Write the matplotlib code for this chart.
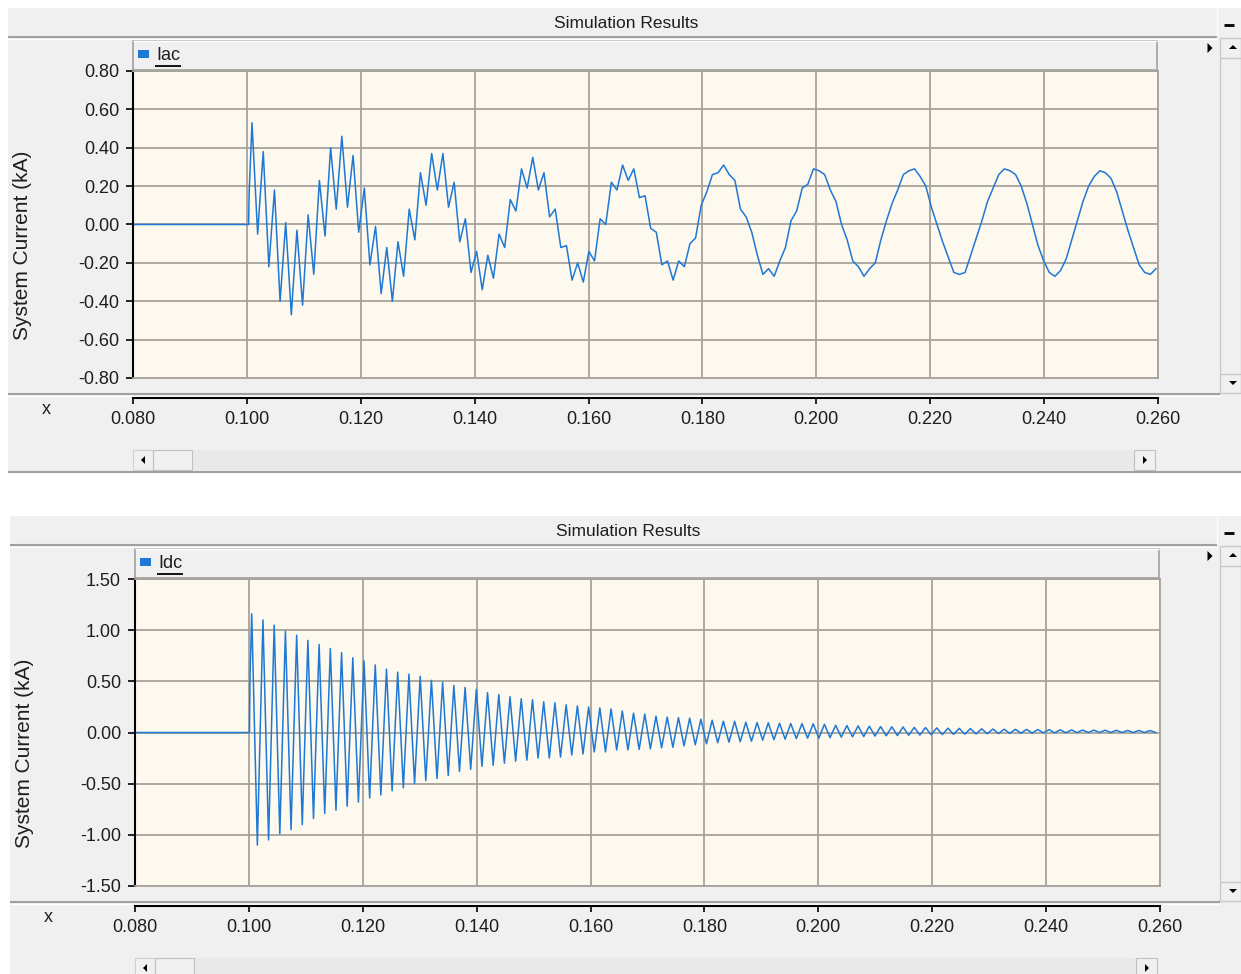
import numpy as np
import matplotlib.pyplot as plt
from matplotlib.patches import Rectangle, Polygon

plt.rcParams['font.family'] = ['Liberation Sans', 'DejaVu Sans']

# ---- data ----
x_ticks = [0.080, 0.100, 0.120, 0.140, 0.160, 0.180, 0.200, 0.220, 0.240, 0.260]
x_tick_labels = ['0.080', '0.100', '0.120', '0.140', '0.160', '0.180',
                 '0.200', '0.220', '0.240', '0.260']

iac_ticks = [-0.8, -0.6, -0.4, -0.2, 0.0, 0.2, 0.4, 0.6, 0.8]
iac_tick_labels = ['-0.80', '-0.60', '-0.40', '-0.20', '0.00', '0.20', '0.40', '0.60', '0.80']
idc_ticks = [-1.5, -1.0, -0.5, 0.0, 0.5, 1.0, 1.5]
idc_tick_labels = ['-1.50', '-1.00', '-0.50', '0.00', '0.50', '1.00', '1.50']

# Iac: flat until the event, then successive ripple extremes (~1 ms apart)
iac_lead_t = [0.080, 0.1003, 0.1004]
iac_lead_v = [0.0, 0.0, 0.17]
iac_t0 = 0.1009
iac_dt = 0.000986
iac_vals = [
    0.53, -0.05, 0.38, -0.22, 0.18, -0.40, 0.01, -0.47, -0.03, -0.42,
    0.05, -0.26, 0.23, -0.06, 0.40, 0.08, 0.46, 0.09, 0.36, -0.04,
    0.19, -0.21, -0.01, -0.36, -0.12, -0.40, -0.09, -0.27, 0.08, -0.08,
    0.27, 0.10, 0.37, 0.18, 0.37, 0.09, 0.22, -0.09, 0.03, -0.25,
    -0.14, -0.34, -0.16, -0.28, -0.05, -0.12, 0.13, 0.07, 0.29, 0.19,
    0.35, 0.18, 0.27, 0.04, 0.08, -0.12, -0.11, -0.29, -0.20, -0.30,
    -0.14, -0.19, 0.03, 0.00, 0.22, 0.18, 0.31, 0.23, 0.29, 0.14,
    0.15, -0.02, -0.04, -0.21, -0.19, -0.29, -0.19, -0.22, -0.10, -0.07,
    0.10, 0.17, 0.26, 0.27, 0.31, 0.26, 0.23, 0.08, 0.04, -0.04,
    -0.16, -0.26, -0.23, -0.27, -0.19, -0.12, 0.02, 0.07, 0.19, 0.21,
    0.29, 0.28, 0.26, 0.18, 0.12, 0.00, -0.08, -0.19, -0.22, -0.27,
    -0.23, -0.20, -0.08, 0.02, 0.11, 0.18, 0.26, 0.28, 0.29, 0.25,
    0.20, 0.09, 0.00, -0.09, -0.17, -0.25, -0.26, -0.25, -0.16, -0.07,
    0.02, 0.12, 0.19, 0.26, 0.29, 0.28, 0.26, 0.20, 0.11, 0.00,
    -0.11, -0.19, -0.25, -0.27, -0.24, -0.18, -0.08, 0.02, 0.12, 0.20,
    0.25, 0.28, 0.27, 0.24, 0.17, 0.07, -0.03, -0.12, -0.21, -0.25,
    -0.26, -0.23,
]

# Idc: flat until the event, then alternating peaks / troughs
idc_lead_t = [0.080, 0.1001, 0.1002]
idc_lead_v = [0.0, 0.0, 0.55]
idc_t0 = 0.1005
idc_dt = 0.000986
idc_peaks = [
    1.16, 1.10, 1.05, 0.99, 0.95, 0.90, 0.86, 0.82, 0.78, 0.73,
    0.70, 0.66, 0.62, 0.59, 0.57, 0.55, 0.51, 0.49, 0.46, 0.44,
    0.42, 0.39, 0.37, 0.35, 0.33, 0.32, 0.30, 0.29, 0.27, 0.26,
    0.25, 0.24, 0.23, 0.21, 0.19, 0.18, 0.16, 0.15, 0.145, 0.14,
    0.13, 0.12, 0.11, 0.11, 0.10, 0.097, 0.095, 0.09, 0.088, 0.087,
    0.085, 0.08, 0.07, 0.068, 0.065, 0.062, 0.058, 0.056, 0.054, 0.05,
    0.048, 0.045, 0.042, 0.04, 0.038, 0.036, 0.034, 0.032, 0.031, 0.03,
    0.029, 0.028, 0.026, 0.025, 0.024, 0.023, 0.022, 0.021, 0.02, 0.02,
    0.019,
]
idc_troughs = [
    -1.10, -1.05, -0.99, -0.95, -0.90, -0.84, -0.79, -0.76, -0.72, -0.68,
    -0.64, -0.61, -0.57, -0.54, -0.50, -0.47, -0.45, -0.42, -0.38, -0.36,
    -0.33, -0.32, -0.30, -0.28, -0.27, -0.25, -0.25, -0.24, -0.22, -0.21,
    -0.19, -0.19, -0.17, -0.17, -0.165, -0.16, -0.15, -0.145, -0.13, -0.12,
    -0.11, -0.10, -0.095, -0.09, -0.085, -0.075, -0.07, -0.065, -0.06, -0.055,
    -0.055, -0.05, -0.045, -0.042, -0.04, -0.035, -0.032, -0.03, -0.027, -0.025,
    -0.022, -0.02, -0.018, -0.016, -0.014, -0.012, -0.01, -0.008, -0.006, -0.005,
    -0.004, -0.003, -0.002, -0.001, 0.0, 0.0, 0.0, 0.0, 0.0, 0.0,
    0.0,
]

# ---- build traces ----
iac_t = np.concatenate([iac_lead_t, iac_t0 + iac_dt * np.arange(len(iac_vals))])
iac_v = np.concatenate([iac_lead_v, iac_vals])

idc_ext = np.empty(len(idc_peaks) + len(idc_troughs))
idc_ext[0::2] = idc_peaks
idc_ext[1::2] = idc_troughs
idc_t = np.concatenate([idc_lead_t, idc_t0 + idc_dt * np.arange(len(idc_ext))])
idc_v = np.concatenate([idc_lead_v, idc_ext])

# ---- figure / chrome helpers (pixel coordinates) ----
W, H = 1241, 974
LINE = '#1f78d4'
GRID = '#a8a39a'
PANEL = '#f0f0f0'
TXT = '#1e1e1e'

fig = plt.figure(figsize=(W / 100, H / 100), dpi=100, facecolor='white')
bg = fig.add_axes([0, 0, 1, 1])
bg.set_xlim(0, W)
bg.set_ylim(H, 0)
bg.axis('off')


def px(x0, y0, x1, y1):
    return [x0 / W, 1 - y1 / H, (x1 - x0) / W, (y1 - y0) / H]


def rect(x0, y0, x1, y1, fc, ec='none', lw=0):
    bg.add_patch(Rectangle((x0, y0), x1 - x0, y1 - y0, facecolor=fc,
                           edgecolor=ec, linewidth=lw))


def hline(x0, x1, y, c, lw):
    bg.plot([x0, x1], [y, y], color=c, lw=lw, solid_capstyle='butt')


def vline(x, y0, y1, c, lw):
    bg.plot([x, x], [y0, y1], color=c, lw=lw, solid_capstyle='butt')


def tri(cx, cy, d, s=4):
    if d == 'r':
        pts = [(cx - s / 2, cy - s), (cx + s / 2, cy), (cx - s / 2, cy + s)]
    elif d == 'l':
        pts = [(cx + s / 2, cy - s), (cx - s / 2, cy), (cx + s / 2, cy + s)]
    elif d == 'u':
        pts = [(cx - s, cy + s / 2), (cx, cy - s / 2), (cx + s, cy + s / 2)]
    else:
        pts = [(cx - s, cy - s / 2), (cx, cy + s / 2), (cx + s, cy - s / 2)]
    bg.add_patch(Polygon(pts, closed=True, facecolor='black', edgecolor='none'))


def panel(dx, dy, name, t, v, yticks, ylabels):
    # window body
    rect(8 + dx, 8 + dy, W, 471 + dy, PANEL)
    # title bar
    bg.text(626 + dx, 23 + dy, 'Simulation Results', ha='center', va='center',
            fontsize=12.5, color=TXT)
    hline(8 + dx, 1217, 36.5 + dy, '#a0a0a0', 1.5)
    hline(8 + dx, 1217, 38.5 + dy, 'white', 1.0)
    vline(1217, 8 + dy, 36 + dy, 'white', 1.0)
    hline(1224, 1234, 25 + dy, 'black', 2.0)
    # legend strip
    rect(133 + dx, 40 + dy, 1157 + dx, 70 + dy, PANEL, '#a0a0a0', 1.2)
    hline(133 + dx, 1157 + dx, 40.5 + dy, 'white', 1.0)
    rect(138 + dx, 50 + dy, 149 + dx, 58 + dy, LINE)
    bg.text(156 + dx, 55 + dy, name, ha='left', va='center', fontsize=13, color=TXT)
    hline(155 + dx, 181 + dx, 66 + dy, 'black', 1.3)
    tri(1210, 48 + dy, 'r', 5)
    # vertical scrollbar
    rect(1220, 38 + dy, W, 393 + dy, PANEL, '#c8c8c8', 1.0)
    hline(1220, W, 58 + dy, '#c8c8c8', 1.0)
    hline(1220, W, 374 + dy, '#c8c8c8', 1.0)
    tri(1233, 47 + dy, 'u', 4)
    tri(1233, 383 + dy, 'd', 4)
    # separator above the x axis strip
    hline(8 + dx, 1220, 394 + dy, '#a0a0a0', 1.5)
    hline(8 + dx, 1220, 395.5 + dy, 'white', 1.0)
    bg.text(46 + dx, 410 + dy, 'x', ha='center', va='center', fontsize=13, color=TXT)
    # horizontal scrollbar
    rect(133 + dx, 450 + dy, 1155 + dx, 470 + dy, '#e9e9e9')
    rect(133 + dx, 450 + dy, 153 + dx, 470 + dy, PANEL, '#d0d0d0', 0.8)
    tri(143 + dx, 460 + dy, 'l', 4)
    rect(153 + dx, 450 + dy, 192 + dx, 470 + dy, PANEL, '#c0c0c0', 0.8)
    rect(1134 + dx, 450 + dy, 1155 + dx, 470 + dy, PANEL, '#c0c0c0', 0.8)
    tri(1145 + dx, 460 + dy, 'r', 4)
    hline(8 + dx, W, 471.5 + dy, '#a0a0a0', 1.5)

    # y label
    fig.text((23 + dx) / W, 1 - (245 + dy) / H, 'System Current (kA)', rotation=90,
             ha='center', va='center', fontsize=15, color=TXT)

    # plot area
    ax = fig.add_axes(px(133 + dx, 71 + dy, 1158 + dx, 378 + dy))
    ax.set_facecolor('#fdf9ef')
    ax.plot(t, v, color=LINE, lw=1.1)
    ax.set_xlim(x_ticks[0], x_ticks[-1])
    ax.set_ylim(yticks[0], yticks[-1])
    ax.set_xticks(x_ticks)
    ax.set_yticks(yticks, ylabels)
    ax.set_axisbelow(True)
    ax.grid(True, color=GRID, lw=1.3)
    ax.tick_params(axis='x', length=0, labelbottom=False)
    ax.tick_params(axis='y', direction='out', length=5, width=1.2, pad=5,
                   labelsize=13, labelcolor=TXT)
    for side in ['top', 'right', 'bottom']:
        ax.spines[side].set_color(GRID)
        ax.spines[side].set_linewidth(1.3)
    ax.spines['left'].set_color('black')
    ax.spines['left'].set_linewidth(1.5)

    # x axis strip
    axx = fig.add_axes(px(133 + dx, 397 + dy, 1158 + dx, 398 + dy))
    axx.patch.set_alpha(0)
    axx.set_xlim(x_ticks[0], x_ticks[-1])
    axx.set_xticks(x_ticks, x_tick_labels)
    axx.set_yticks([])
    for side in ['top', 'right', 'left']:
        axx.spines[side].set_visible(False)
    axx.spines['bottom'].set_linewidth(1.5)
    axx.tick_params(axis='x', direction='out', length=4.5, width=1.2, pad=5,
                    labelsize=13, labelcolor=TXT)


panel(0, 0, 'Iac', iac_t, iac_v, iac_ticks, iac_tick_labels)
panel(2, 508, 'Idc', idc_t, idc_v, idc_ticks, idc_tick_labels)

fig.savefig('out.png', dpi=100, facecolor='white')
